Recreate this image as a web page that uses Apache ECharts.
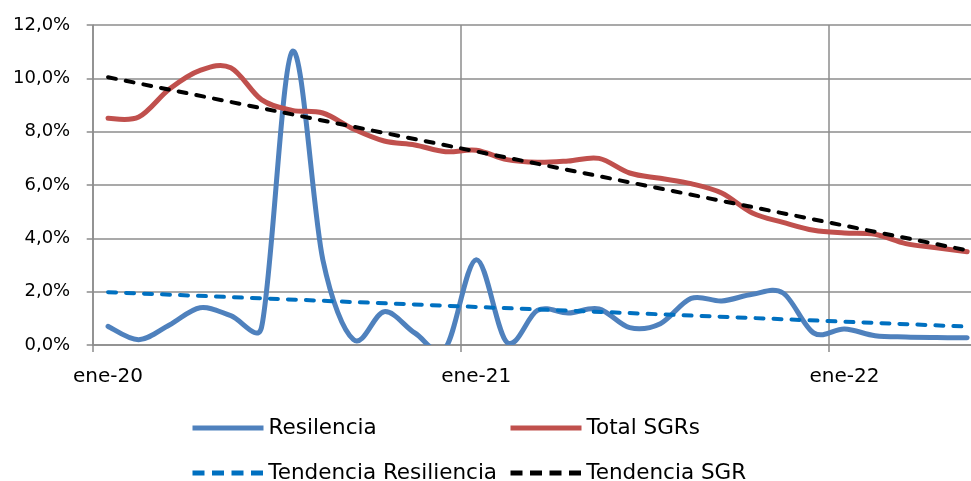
<!DOCTYPE html>
<html>
<head>
<meta charset="utf-8">
<script src="https://cdn.jsdelivr.net/npm/echarts@6/dist/echarts.min.js"></script>
<style>
html,body{margin:0;padding:0;background:#fff;overflow:hidden;width:971px;height:481px;}
#chart{width:990px;height:481px;}
</style>
</head>
<body>
<div id="chart"></div>
<script>
var months = ['ene-20','feb-20','mar-20','abr-20','may-20','jun-20','jul-20','ago-20','sep-20','oct-20','nov-20','dic-20',
              'ene-21','feb-21','mar-21','abr-21','may-21','jun-21','jul-21','ago-21','sep-21','oct-21','nov-21','dic-21',
              'ene-22','feb-22','mar-22','abr-22','may-22'];
var resilencia = [0.7,0.2,0.75,1.4,1.1,0.65,11.0,3.2,0.2,1.25,0.45,-0.1,
                  3.2,0.1,1.3,1.2,1.35,0.65,0.8,1.75,1.65,1.9,1.95,0.45,
                  0.6,0.35,0.3,0.28,0.27];
var totalSGRs = [8.5,8.55,9.6,10.3,10.4,9.2,8.8,8.7,8.1,7.65,7.5,7.25,
                 7.3,6.95,6.85,6.9,7.0,6.45,6.25,6.05,5.7,4.95,4.6,4.3,
                 4.2,4.15,3.8,3.65,3.5];
// Trend lines: values read at the first and last month, joined straight
var tendResilienciaEnds = [1.98, 0.69];
var tendSGREnds = [10.04, 3.55];
var yTicks = [0,2,4,6,8,10,12];

function endsToSeries(ends){
  var arr = months.map(function(){return null;});
  arr[0] = ends[0];
  arr[arr.length-1] = ends[1];
  return arr;
}
function pairs(vals){ return vals.map(function(v,i){return [i,v];}); }

var FONT = '"DejaVu Sans", sans-serif';
var GRID_COLOR = '#8c8c8c';
var C_RES = '#4F81BD', C_SGR = '#C0504D', C_TRES = '#0070C0', C_TSGR = '#000000';

function dist(a,b){ var dx=a[0]-b[0], dy=a[1]-b[1]; return Math.sqrt(dx*dx+dy*dy); }

// Excel-like smoothed line: Catmull-Rom bezier with control vectors limited
// to half the segment length, through the axis coordinates of the data
function smoothRender(vals, color){
  return function(params, api){
    if (params.dataIndex !== 0) return null;
    var pts = vals.map(function(v,i){ return api.coord([i, v]); });
    var d = 'M' + pts[0][0] + ' ' + pts[0][1];
    var t = 1/6;
    for (var i = 0; i < pts.length - 1; i++){
      var p0 = pts[i-1] || pts[i], p1 = pts[i], p2 = pts[i+1], p3 = pts[i+2] || pts[i+1];
      var d12 = dist(p1,p2), d02 = dist(p0,p2), d13 = dist(p1,p3);
      var f1 = d02 > 0 ? Math.min(t, d12/(2*d02)) : 0;
      var f2 = d13 > 0 ? Math.min(t, d12/(2*d13)) : 0;
      var c1x = p1[0] + (p2[0]-p0[0])*f1, c1y = p1[1] + (p2[1]-p0[1])*f1;
      var c2x = p2[0] - (p3[0]-p1[0])*f2, c2y = p2[1] - (p3[1]-p1[1])*f2;
      d += ' C' + c1x + ' ' + c1y + ' ' + c2x + ' ' + c2y + ' ' + p2[0] + ' ' + p2[1];
    }
    return {type:'path', shape:{pathData:d},
      style:{fill:null, stroke:color, lineWidth:5, lineCap:'round', lineJoin:'round'}};
  };
}

var SOLID_ICON = 'path://M0,0H71V5H0Z';
var DASH_ICON = 'path://M0,0H12V5H0Z M19.5,0H31.5V5H19.5Z M39,0H51V5H39Z M58.5,0H70.5V5H58.5Z';

function legendAt(name, icon, left, top){
  return {
    data:[{name:name, icon:icon}], left:left, top:top, padding:0, itemWidth:71, itemHeight:5,
    orient:'horizontal', selectedMode:false,
    textStyle:{fontFamily:FONT, fontSize:21.5, color:'#000'}
  };
}

var chart = echarts.init(document.getElementById('chart'), null, {renderer:'canvas'});

chart.setOption({
  animation:false,
  backgroundColor:'#fff',
  grid:{left:92.7, top:25, bottom:136, right:7.5, containLabel:false},
  legend:[
    legendAt('Resilencia', SOLID_ICON, 192.5, 417),
    legendAt('Total SGRs', SOLID_ICON, 510.5, 417),
    legendAt('Tendencia Resiliencia', DASH_ICON, 192.5, 462),
    legendAt('Tendencia SGR', DASH_ICON, 510.5, 462)
  ],
  xAxis:{
    type:'category', data:months, boundaryGap:true,
    axisLine:{show:true, lineStyle:{color:GRID_COLOR, width:1.5}},
    axisTick:{show:true, interval:11, length:7, inside:false, lineStyle:{color:GRID_COLOR, width:1.5}},
    axisLabel:{interval:11, margin:22, fontFamily:FONT, fontSize:20, color:'#000'},
    splitLine:{show:true, interval:11, lineStyle:{color:GRID_COLOR, width:1.5}}
  },
  yAxis:{
    type:'value', min:yTicks[0], max:yTicks[yTicks.length-1], interval:2,
    axisLine:{show:true, lineStyle:{color:GRID_COLOR, width:1.5}},
    axisTick:{show:true, length:6, lineStyle:{color:GRID_COLOR, width:1.5}},
    axisLabel:{margin:22.5, fontFamily:FONT, fontSize:18, color:'#000',
      formatter:function(v){return v.toFixed(1).replace('.',',')+'%';}},
    splitLine:{show:true, lineStyle:{color:GRID_COLOR, width:1.5}}
  },
  series:[
    {name:'Resilencia', type:'custom', data:pairs(resilencia), clip:true,
     encode:{x:0, y:1}, itemStyle:{color:C_RES}, renderItem:smoothRender(resilencia, C_RES)},
    {name:'Total SGRs', type:'custom', data:pairs(totalSGRs), clip:true,
     encode:{x:0, y:1}, itemStyle:{color:C_SGR}, renderItem:smoothRender(totalSGRs, C_SGR)},
    {name:'Tendencia Resiliencia', type:'line', data:endsToSeries(tendResilienciaEnds), connectNulls:true, symbol:'none',
     lineStyle:{color:C_TRES, width:4, type:[8,10], cap:'round'}, itemStyle:{color:C_TRES}},
    {name:'Tendencia SGR', type:'line', data:endsToSeries(tendSGREnds), connectNulls:true, symbol:'none',
     lineStyle:{color:C_TSGR, width:4, type:[8,10], cap:'round'}, itemStyle:{color:C_TSGR}}
  ]
});
</script>
</body>
</html>
